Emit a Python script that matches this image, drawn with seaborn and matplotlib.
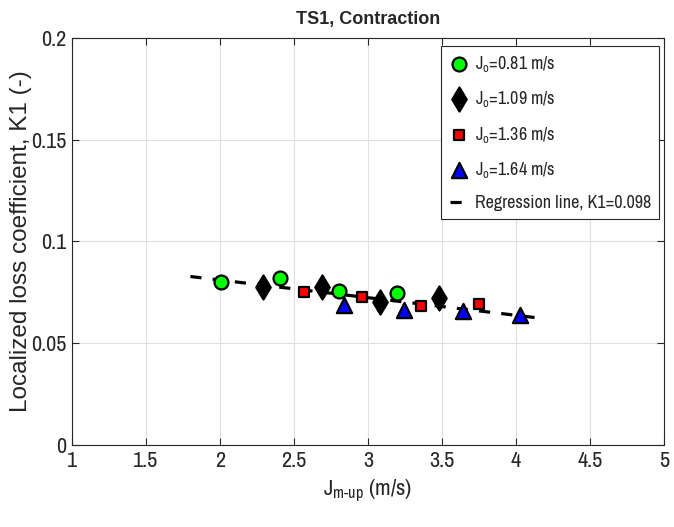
import numpy as np
import pandas as pd
import seaborn as sns
import matplotlib
matplotlib.use("Agg")
import matplotlib.pyplot as plt

# ---- data ----
x_081 = [2.01, 2.405, 2.806, 3.198]
y_081 = [0.0802, 0.0819, 0.0758, 0.0745]
x_109 = [2.289, 2.687, 3.081, 3.478]
y_109 = [0.0775, 0.0775, 0.0704, 0.0721]
x_136 = [2.568, 2.961, 3.36, 3.752]
y_136 = [0.0750, 0.0729, 0.0683, 0.0691]
x_164 = [2.84, 3.243, 3.64, 4.027]
y_164 = [0.0690, 0.0662, 0.0657, 0.0641]
reg_x = [1.8, 4.2]
reg_y = [0.0828, 0.0620]
labels = [r"J$_{\rm o}$=0.81 m/s", r"J$_{\rm o}$=1.09 m/s",
          r"J$_{\rm o}$=1.36 m/s", r"J$_{\rm o}$=1.64 m/s"]
reg_label = "Regression line, K1=0.098"
x_ticks = [1, 1.5, 2, 2.5, 3, 3.5, 4, 4.5, 5]
y_ticks = [0, 0.05, 0.1, 0.15, 0.2]
y_ticklabels = ["0", "0.05", "0.1", "0.15", "0.2"]

sns.set_theme(style="whitegrid")
plt.rcParams['font.family'] = ['Archivo Narrow', 'Liberation Sans', 'DejaVu Sans']
plt.rcParams['mathtext.fontset'] = 'custom'
plt.rcParams['mathtext.rm'] = 'Archivo Narrow'

fig = plt.figure(figsize=(6.74, 5.27), dpi=100)
ax = fig.add_axes([72/674, 1-445/527, (664-72)/674, (445-38)/527])

series = [
    (x_081, y_081, "o", "#00ff00", 100),
    (x_109, y_109, "d", "black", 150),
    (x_136, y_136, "s", "#ff0000", 60),
    (x_164, y_164, "^", "#0000ff", 120),
]
df_reg = pd.DataFrame({"x": reg_x, "y": reg_y})
sns.lineplot(data=df_reg, x="x", y="y", ax=ax, color="black", linestyle=(0, (3.5, 3.5)),
             linewidth=2.3, label=reg_label, zorder=2)
for (xs, ys, m, c, s), lab in zip(series, labels):
    df = pd.DataFrame({"x": xs, "y": ys})
    sns.scatterplot(data=df, x="x", y="y", ax=ax, marker=m, color=c, s=s,
                    edgecolor="black", linewidth=1.6, label=lab, zorder=3)

ax.set_xlim(1, 5)
ax.set_ylim(0, 0.2)
ax.set_xticks(x_ticks)
ax.set_xticklabels([f"{t:g}" for t in x_ticks])
ax.set_yticks(y_ticks)
ax.set_yticklabels(y_ticklabels)
ax.tick_params(axis="both", labelsize=16, direction="in", length=5, width=0.8,
               colors="#262626", bottom=True, left=True, top=True, right=True,
               labeltop=False, labelright=False, pad=4)
ax.grid(True, color="#e0e0e0", linewidth=0.8)
for sp in ax.spines.values():
    sp.set_color("#262626")
    sp.set_linewidth(0.8)

ax.set_title("TS1, Contraction", fontsize=13, fontweight="bold", pad=10,
             family=["Liberation Sans", "DejaVu Sans"])
ax.set_xlabel(r"J$_{\rm m\text{-}up}$ (m/s)", fontsize=16.5, labelpad=5)
ax.set_ylabel("Localized loss coefficient, K1 (-)", fontsize=17.5,
              family=["Liberation Sans", "DejaVu Sans"])
ax.yaxis.set_label_coords(-0.067, 0.5)

handles, labs = ax.get_legend_handles_labels()
order = [1, 2, 3, 4, 0]
leg = ax.legend([handles[i] for i in order], [labs[i] for i in order],
                loc="upper right", bbox_to_anchor=(0.998, 0.99), fontsize=13,
                frameon=True, fancybox=False, edgecolor="#262626",
                handlelength=1.0, handletextpad=0.4, labelspacing=0.85,
                borderpad=0.45, borderaxespad=0.2, framealpha=1)
leg.get_frame().set_linewidth(0.8)

fig.savefig("out.png", dpi=100)
